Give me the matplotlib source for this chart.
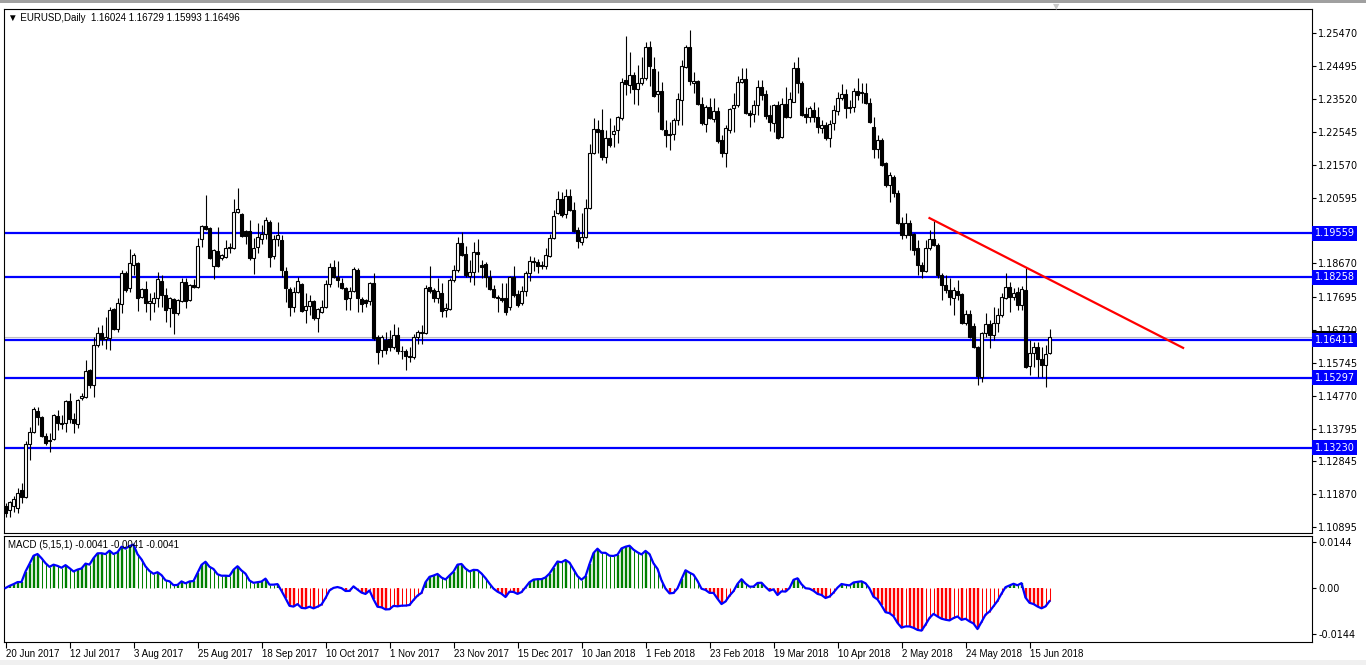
import numpy as np
import pandas as pd
import matplotlib
matplotlib.use("Agg")
import matplotlib.pyplot as plt
import matplotlib.transforms as mtransforms
from matplotlib.patches import Rectangle

plt.rcParams['font.family'] = ['DejaVu Sans']

# ----------------(data)----------------
opens = [1.1152, 1.1140, 1.1152, 1.1145, 1.1198, 1.1178, 1.1335, 1.1370, 1.1432, 1.1414,
         1.1358, 1.1347, 1.1349, 1.1417, 1.1397, 1.1397, 1.1461, 1.1408, 1.1394, 1.1470,
         1.1473, 1.1553, 1.1509, 1.1627, 1.1662, 1.1645, 1.1648, 1.1733, 1.1674, 1.1747,
         1.1839, 1.1795, 1.1862, 1.1868, 1.1768, 1.1792, 1.1750, 1.1750, 1.1765, 1.1815,
         1.1774, 1.1735, 1.1762, 1.1721, 1.1756, 1.1812, 1.1759, 1.1804, 1.1798, 1.1939,
         1.1978, 1.1972, 1.1860, 1.1904, 1.1883, 1.1886, 1.1913, 1.1913, 1.2019, 1.2013,
         1.1963, 1.1963, 1.1883, 1.1916, 1.1938, 1.1953, 1.1990, 1.1890, 1.1938, 1.1936,
         1.1845, 1.1792, 1.1739, 1.1783, 1.1806, 1.1730, 1.1742, 1.1756, 1.1706, 1.1724,
         1.1739, 1.1807, 1.1857, 1.1827, 1.1810, 1.1795, 1.1765, 1.1786, 1.1848, 1.1762,
         1.1759, 1.1756, 1.1810, 1.1650, 1.1612, 1.1641, 1.1645, 1.1620, 1.1655, 1.1608,
         1.1610, 1.1595, 1.1592, 1.1651, 1.1665, 1.1663, 1.1798, 1.1789, 1.1765, 1.1780,
         1.1730, 1.1733, 1.1818, 1.1848, 1.1928, 1.1895, 1.1830, 1.1842, 1.1901, 1.1863,
         1.1866, 1.1827, 1.1792, 1.1768, 1.1765, 1.1765, 1.1739, 1.1827, 1.1777, 1.1750,
         1.1785, 1.1838, 1.1875, 1.1870, 1.1860, 1.1860, 1.1889, 1.1942, 1.2016, 1.2057,
         1.2013, 1.2066, 1.2025, 1.1966, 1.1930, 1.1945, 1.2031, 1.2193, 1.2264, 1.2261,
         1.2181, 1.2237, 1.2250, 1.2261, 1.2296, 1.2408, 1.2394, 1.2423, 1.2382, 1.2400,
         1.2414, 1.2506, 1.2440, 1.2367, 1.2376, 1.2261, 1.2249, 1.2249, 1.2290, 1.2349,
         1.2447, 1.2506, 1.2400, 1.2405, 1.2338, 1.2278, 1.2329, 1.2293, 1.2317, 1.2231,
         1.2193, 1.2261, 1.2326, 1.2335, 1.2402, 1.2411, 1.2311, 1.2308, 1.2335, 1.2388,
         1.2367, 1.2305, 1.2281, 1.2335, 1.2240, 1.2338, 1.2299, 1.2343, 1.2444, 1.2400,
         1.2308, 1.2299, 1.2320, 1.2299, 1.2267, 1.2276, 1.2237, 1.2281, 1.2317, 1.2355,
         1.2367, 1.2329, 1.2329, 1.2376, 1.2373, 1.2370, 1.2340, 1.2270, 1.2205, 1.2231,
         1.2164, 1.2099, 1.2122, 1.2075, 1.1986, 1.1951, 1.1986, 1.1954, 1.1912, 1.1863,
         1.1845, 1.1913, 1.1939, 1.1922, 1.1833, 1.1804, 1.1789, 1.1765, 1.1786, 1.1777,
         1.1692, 1.1718, 1.1683, 1.1621, 1.1532, 1.1662, 1.1689, 1.1656, 1.1692, 1.1715,
         1.1765, 1.1798, 1.1768, 1.1783, 1.1745, 1.1789, 1.1565, 1.1603, 1.1621, 1.1585,
         1.1568, 1.16024]

highs = [1.1160, 1.1167, 1.1180, 1.1205, 1.1220, 1.1343, 1.1385, 1.1444, 1.1444, 1.1418,
         1.1367, 1.1367, 1.1423, 1.1435, 1.1420, 1.1463, 1.1485, 1.1426, 1.1467, 1.1485,
         1.1582, 1.1556, 1.1650, 1.1680, 1.1686, 1.1709, 1.1739, 1.1736, 1.1765, 1.1848,
         1.1845, 1.1910, 1.1898, 1.1871, 1.1795, 1.1815, 1.1780, 1.1783, 1.1842, 1.1833,
         1.1795, 1.1768, 1.1765, 1.1762, 1.1824, 1.1824, 1.1806, 1.1821, 1.1942, 1.1982,
         1.2069, 1.1975, 1.1910, 1.1975, 1.1895, 1.1936, 1.1927, 1.2057, 1.2090, 1.2016,
         1.1966, 1.1995, 1.1942, 1.1986, 1.1980, 1.2005, 1.1995, 1.1950, 1.1990, 1.1950,
         1.1857, 1.1798, 1.1798, 1.1827, 1.1809, 1.1780, 1.1774, 1.1759, 1.1736, 1.1759,
         1.1818, 1.1868, 1.1877, 1.1874, 1.1824, 1.1798, 1.1798, 1.1857, 1.1854, 1.1768,
         1.1762, 1.1812, 1.1839, 1.1656, 1.1656, 1.1665, 1.1670, 1.1688, 1.1680, 1.1625,
         1.1615, 1.1620, 1.1660, 1.1670, 1.1685, 1.1804, 1.1860, 1.1795, 1.1824, 1.1809,
         1.1750, 1.1824, 1.1863, 1.1945, 1.1960, 1.1919, 1.1877, 1.1930, 1.1939, 1.1877,
         1.1872, 1.1848, 1.1804, 1.1774, 1.1809, 1.1809, 1.1830, 1.1860, 1.1790, 1.1800,
         1.1845, 1.1890, 1.1886, 1.1880, 1.1875, 1.1913, 1.1954, 1.2025, 1.2081, 1.2078,
         1.2087, 1.2087, 1.2048, 1.1975, 1.2016, 1.2057, 1.2220, 1.2296, 1.2290, 1.2323,
         1.2261, 1.2296, 1.2276, 1.2302, 1.2414, 1.2538, 1.2491, 1.2432, 1.2453, 1.2476,
         1.2520, 1.2522, 1.2476, 1.2435, 1.2402, 1.2290, 1.2284, 1.2296, 1.2370, 1.2467,
         1.2512, 1.2556, 1.2432, 1.2408, 1.2358, 1.2335, 1.2355, 1.2355, 1.2329, 1.2246,
         1.2276, 1.2326, 1.2370, 1.2420, 1.2444, 1.2444, 1.2320, 1.2349, 1.2408, 1.2408,
         1.2379, 1.2335, 1.2338, 1.2345, 1.2355, 1.2388, 1.2373, 1.2461, 1.2476, 1.2405,
         1.2329, 1.2332, 1.2343, 1.2329, 1.2290, 1.2284, 1.2290, 1.2335, 1.2373, 1.2397,
         1.2382, 1.2349, 1.2385, 1.2414, 1.2400, 1.2400, 1.2355, 1.2299, 1.2246, 1.2237,
         1.2167, 1.2137, 1.2128, 1.2084, 1.2005, 1.2016, 1.1995, 1.1957, 1.1936, 1.1871,
         1.1936, 1.1966, 1.1992, 1.1927, 1.1839, 1.1833, 1.1824, 1.1798, 1.1818, 1.1780,
         1.1730, 1.1730, 1.1692, 1.1624, 1.1665, 1.1721, 1.1700, 1.1739, 1.1736, 1.1780,
         1.1839, 1.1812, 1.1795, 1.1798, 1.1801, 1.1854, 1.1641, 1.1635, 1.1635, 1.1621,
         1.1627, 1.16729]

lows = [1.1118, 1.1120, 1.1135, 1.1131, 1.1160, 1.1175, 1.1287, 1.1368, 1.1391, 1.1355,
        1.1332, 1.1311, 1.1346, 1.1376, 1.1379, 1.1370, 1.1397, 1.1367, 1.1382, 1.1464,
        1.1470, 1.1500, 1.1473, 1.1621, 1.1627, 1.1615, 1.1612, 1.1671, 1.1665, 1.1721,
        1.1783, 1.1783, 1.1833, 1.1727, 1.1765, 1.1724, 1.1700, 1.1724, 1.1739, 1.1739,
        1.1694, 1.1680, 1.1659, 1.1715, 1.1753, 1.1736, 1.1756, 1.1795, 1.1795, 1.1916,
        1.1966, 1.1880, 1.1821, 1.1858, 1.1877, 1.1883, 1.1898, 1.1910, 1.2016, 1.1945,
        1.1924, 1.1877, 1.1836, 1.1898, 1.1925, 1.1940, 1.1857, 1.1880, 1.1920, 1.1827,
        1.1753, 1.1712, 1.1724, 1.1780, 1.1724, 1.1692, 1.1715, 1.1700, 1.1665, 1.1721,
        1.1736, 1.1798, 1.1824, 1.1798, 1.1792, 1.1730, 1.1730, 1.1783, 1.1724, 1.1724,
        1.1740, 1.1745, 1.1641, 1.1571, 1.1591, 1.1600, 1.1610, 1.1615, 1.1600, 1.1585,
        1.1554, 1.1575, 1.1585, 1.1630, 1.1630, 1.1660, 1.1780, 1.1753, 1.1750, 1.1709,
        1.1709, 1.1730, 1.1812, 1.1842, 1.1889, 1.1827, 1.1812, 1.1804, 1.1842, 1.1824,
        1.1798, 1.1789, 1.1765, 1.1724, 1.1753, 1.1715, 1.1730, 1.1768, 1.1740, 1.1745,
        1.1770, 1.1815, 1.1846, 1.1840, 1.1850, 1.1850, 1.1886, 1.1939, 1.2013, 1.2004,
        1.2001, 1.2022, 1.1960, 1.1913, 1.1922, 1.1942, 1.2028, 1.2190, 1.2193, 1.2172,
        1.2163, 1.2211, 1.2211, 1.2222, 1.2290, 1.2364, 1.2370, 1.2338, 1.2335, 1.2394,
        1.2408, 1.2390, 1.2358, 1.2314, 1.2261, 1.2211, 1.2202, 1.2231, 1.2276, 1.2276,
        1.2444, 1.2394, 1.2370, 1.2335, 1.2276, 1.2255, 1.2293, 1.2284, 1.2222, 1.2181,
        1.2152, 1.2252, 1.2255, 1.2329, 1.2399, 1.2308, 1.2270, 1.2284, 1.2305, 1.2349,
        1.2293, 1.2258, 1.2255, 1.2234, 1.2237, 1.2296, 1.2296, 1.2343, 1.2370, 1.2302,
        1.2281, 1.2284, 1.2284, 1.2252, 1.2252, 1.2231, 1.2211, 1.2261, 1.2305, 1.2349,
        1.2296, 1.2311, 1.2314, 1.2349, 1.2340, 1.2338, 1.2281, 1.2178, 1.2178, 1.2155,
        1.2093, 1.2048, 1.2063, 1.1983, 1.1940, 1.1942, 1.1907, 1.1892, 1.1833, 1.1824,
        1.1842, 1.1907, 1.1919, 1.1824, 1.1759, 1.1780, 1.1745, 1.1715, 1.1759, 1.1689,
        1.1686, 1.1647, 1.1618, 1.1509, 1.1517, 1.1650, 1.1618, 1.1641, 1.1665, 1.1709,
        1.1762, 1.1724, 1.1759, 1.1730, 1.1730, 1.1559, 1.1538, 1.1562, 1.1532, 1.1532,
        1.1503, 1.15993]

closes = [1.1132, 1.1164, 1.1172, 1.1190, 1.1178, 1.1335, 1.1370, 1.1438, 1.1414, 1.1358,
          1.1338, 1.1342, 1.1420, 1.1397, 1.1394, 1.1461, 1.1408, 1.1397, 1.1464, 1.1476,
          1.1550, 1.1509, 1.1627, 1.1662, 1.1643, 1.1651, 1.1730, 1.1674, 1.1750, 1.1839,
          1.1789, 1.1868, 1.1892, 1.1765, 1.1792, 1.1750, 1.1756, 1.1765, 1.1821, 1.1774,
          1.1730, 1.1765, 1.1721, 1.1759, 1.1812, 1.1756, 1.1804, 1.1798, 1.1919, 1.1978,
          1.1969, 1.1883, 1.1907, 1.1860, 1.1892, 1.1913, 1.1916, 1.2019, 1.2028, 1.1948,
          1.1948, 1.1883, 1.1913, 1.1945, 1.1953, 1.1995, 1.1886, 1.1940, 1.1950, 1.1848,
          1.1795, 1.1739, 1.1783, 1.1815, 1.1727, 1.1742, 1.1756, 1.1706, 1.1733, 1.1739,
          1.1807, 1.1857, 1.1827, 1.1818, 1.1795, 1.1762, 1.1786, 1.1851, 1.1765, 1.1747,
          1.1750, 1.1810, 1.1647, 1.1606, 1.1650, 1.1612, 1.1620, 1.1655, 1.1608, 1.1610,
          1.1595, 1.1592, 1.1651, 1.1665, 1.1663, 1.1795, 1.1786, 1.1765, 1.1786, 1.1727,
          1.1736, 1.1818, 1.1848, 1.1928, 1.1892, 1.1833, 1.1842, 1.1901, 1.1895, 1.1857,
          1.1827, 1.1792, 1.1768, 1.1765, 1.1759, 1.1724, 1.1827, 1.1774, 1.1745, 1.1785,
          1.1838, 1.1873, 1.1870, 1.1860, 1.1862, 1.1893, 1.1942, 1.2007, 1.2057, 1.2010,
          1.2066, 1.2025, 1.1963, 1.1933, 1.1945, 1.2031, 1.2193, 1.2264, 1.2255, 1.2181,
          1.2237, 1.2217, 1.2258, 1.2299, 1.2402, 1.2397, 1.2423, 1.2382, 1.2400, 1.2414,
          1.2506, 1.2450, 1.2361, 1.2376, 1.2264, 1.2246, 1.2246, 1.2290, 1.2352, 1.2450,
          1.2506, 1.2405, 1.2405, 1.2338, 1.2281, 1.2329, 1.2296, 1.2317, 1.2228, 1.2193,
          1.2267, 1.2323, 1.2335, 1.2402, 1.2411, 1.2311, 1.2305, 1.2335, 1.2388, 1.2364,
          1.2302, 1.2284, 1.2335, 1.2237, 1.2338, 1.2299, 1.2352, 1.2444, 1.2400, 1.2305,
          1.2299, 1.2326, 1.2299, 1.2270, 1.2276, 1.2237, 1.2278, 1.2320, 1.2355, 1.2367,
          1.2326, 1.2326, 1.2376, 1.2364, 1.2370, 1.2340, 1.2284, 1.2205, 1.2231, 1.2158,
          1.2099, 1.2128, 1.2075, 1.1986, 1.1951, 1.1986, 1.1951, 1.1907, 1.1863, 1.1845,
          1.1913, 1.1939, 1.1922, 1.1833, 1.1804, 1.1789, 1.1768, 1.1789, 1.1774, 1.1692,
          1.1718, 1.1650, 1.1621, 1.1535, 1.1662, 1.1689, 1.1656, 1.1692, 1.1715, 1.1768,
          1.1798, 1.1768, 1.1780, 1.1745, 1.1792, 1.1562, 1.1603, 1.1621, 1.1585, 1.1568,
          1.1600, 1.16496]

# horizontal support / resistance levels and the drawn trend line
levels = [1.19559, 1.18258, 1.16411, 1.15297, 1.13230]
trend_bars = [231.0, 294.4]
trend_prices = [1.2001, 1.1618]

price_ticks = [1.25470, 1.24495, 1.23520, 1.22545, 1.21570, 1.20595, 1.18670,
               1.17695, 1.16720, 1.15745, 1.14770, 1.13795, 1.12845, 1.11870, 1.10895]

header = "EURUSD,Daily  1.16024 1.16729 1.15993 1.16496"
macd_title = "MACD (5,15,1) -0.0041 -0.0041 -0.0041"

# trading days (Christmas and New Year have no bar)
days = pd.bdate_range("2017-06-20", "2018-06-22")
days = days[~days.isin(pd.to_datetime(["2017-12-25", "2018-01-01"]))]

# ----------------(setup)----------------
o = np.array(opens); h = np.array(highs); l = np.array(lows); c = np.array(closes)
n = len(c)
x = np.arange(n)

W, H = 1366, 665
fig = plt.figure(figsize=(W / 100, H / 100), dpi=100)
fig.patch.set_facecolor("white")
narrow = ["Liberation Sans", "DejaVu Sans"]

# window frame bits
fig.patches.append(Rectangle((0, 1 - 3 / H), 1, 3 / H, transform=fig.transFigure,
                             fc="#a0a0a0", ec="none", zorder=0))
fig.patches.append(Rectangle((0, 0), 1, 5 / H, transform=fig.transFigure,
                             fc="#f0f0f0", ec="none", zorder=0))


def px_axes(left, top, right, bottom):
    return fig.add_axes([left / W, 1 - bottom / H, (right - left) / W, (bottom - top) / H])


ax = px_axes(3.5, 8.5, 1311.5, 532.5)
axm = px_axes(3.5, 535.5, 1311.5, 641.5)

xlim = (-0.5, 326.5)
ax.set_xlim(*xlim)
ax.set_ylim(1.10733, 1.26193)

# ----------------(candles)----------------
ax.vlines(x, l, h, color="black", lw=0.8, zorder=3)
up = c >= o
body_lo = np.minimum(o, c)
body_h = np.maximum(np.abs(c - o), 0.00004)
ax.bar(x, body_h, bottom=body_lo, width=0.52,
       color=np.where(up, "white", "black"), edgecolor="black", lw=0.8, zorder=4)

# levels, bid line and trend line
for lv in levels:
    ax.axhline(lv, color="#0000ff", lw=1.6, zorder=2)
ax.axhline(c[-1], color="#c0c0c0", lw=0.8, zorder=1)
ax.plot(trend_bars, trend_prices, color="#ff0000", lw=1.6, zorder=5)

# right price axis
ax.yaxis.tick_right()
ax.set_yticks(price_ticks)
ax.set_yticklabels(["%.5f" % v for v in price_ticks], fontsize=7)
ax.tick_params(axis="y", length=3, width=0.8, pad=2)
ax.set_xticks([])
for s in ax.spines.values():
    s.set_linewidth(0.8)

# bid marker (mostly hidden behind the 1.16411 label, as in the terminal)
trans = mtransforms.blended_transform_factory(ax.transAxes, ax.transData)
ax.add_patch(Rectangle((1.0015, c[-1] - 0.0017), 0.0325, 0.0034, transform=trans,
                       fc="black", ec="none", zorder=6, clip_on=False))
for lv in levels:
    ax.text(1.0025, lv, "%.5f" % lv, transform=trans, fontsize=7, color="white",
            va="center", ha="left", zorder=7,
            bbox=dict(boxstyle="square,pad=0.25", fc="#0000ff", ec="none"), clip_on=False)

ax.text(0.0035, 0.992, "\u25BC " + header, transform=ax.transAxes, fontsize=7,
        family=narrow, va="top", ha="left")
fig.text(1056 / W, 1 - 7 / H, "\u25BC", color="#c8c8c8", fontsize=6, ha="center", va="center")

# ----------------(MACD)----------------
cs = pd.Series(c)
macd = (cs.ewm(span=5, adjust=False).mean() - cs.ewm(span=15, adjust=False).mean()).values
grow = np.abs(macd) >= np.abs(np.r_[macd[0], macd[:-1]])
col = np.where(macd >= 0, "#008000", "#ff0000")
axm.vlines(x[grow], 0, macd[grow], colors=col[grow], lw=1.7, zorder=2)
axm.vlines(x[~grow], 0, macd[~grow], colors=col[~grow], lw=0.75, zorder=2)
axm.plot(x, macd, color="#0000ff", lw=1.6, zorder=3)
axm.set_xlim(*xlim)
axm.set_ylim(-0.01657, 0.01626)
axm.yaxis.tick_right()
axm.set_yticks([0.0144, 0.0, -0.0144])
axm.set_yticklabels(["0.0144", "0.00", "-0.0144"], fontsize=7)
axm.tick_params(axis="y", length=3, width=0.8, pad=2)
for s in axm.spines.values():
    s.set_linewidth(0.8)
axm.text(0.0035, 0.955, macd_title, transform=axm.transAxes, fontsize=7,
         family=narrow, va="top", ha="left")

# date labels every 16 bars
pos = list(range(0, n, 16))
axm.set_xticks(pos)
axm.set_xticklabels(["%d %s" % (days[i].day, days[i].strftime("%b %Y")) for i in pos],
                    fontsize=7, ha="left", family=narrow)
axm.tick_params(axis="x", length=4, width=0.8, pad=1.5)

fig.savefig("out.png", dpi=100, facecolor="white")
